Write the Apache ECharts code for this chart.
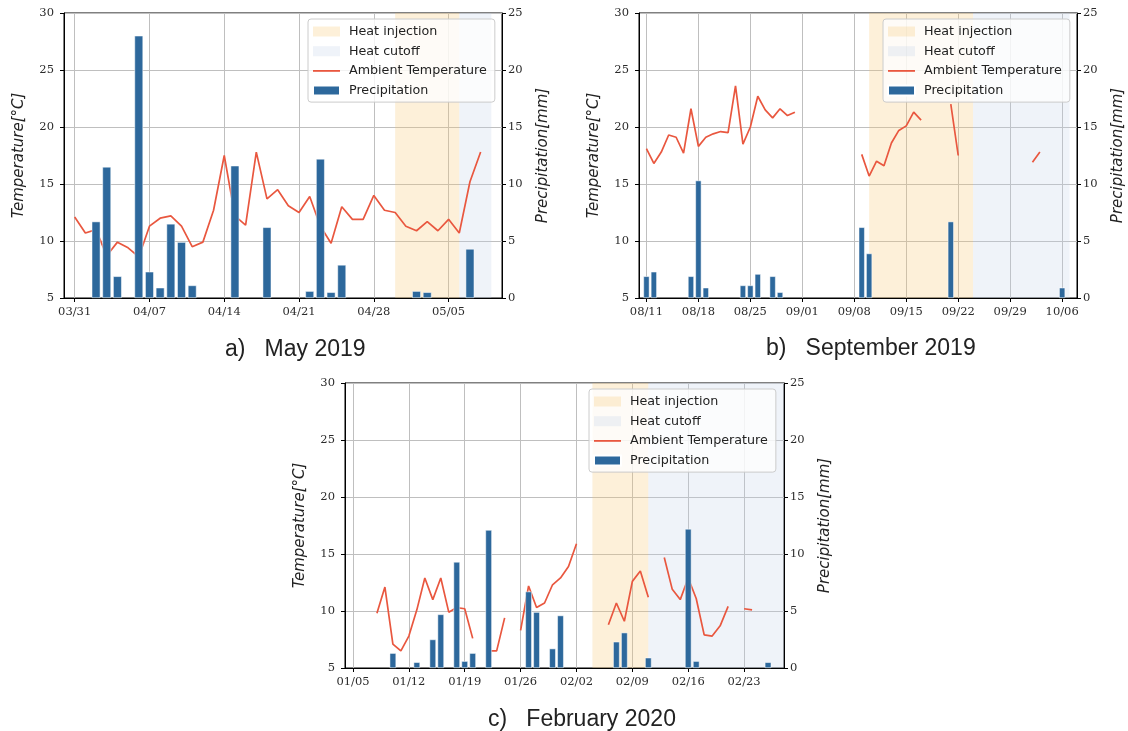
<!DOCTYPE html>
<html>
<head>
<meta charset="utf-8">
<script src="https://cdn.jsdelivr.net/npm/echarts/dist/echarts.min.js"></script>
<style>
	html, body { margin: 0; padding: 0; background: #fff; }
	#chart { width: 1128px; height: 731px; }
</style>
</head>
<body>
<div id="chart"></div>
<script>
	// MM/DD labels, one per day, starting at y-m-d
	function dayLabels(y, m, d, n) {
		let out = []
		for (let k = 0; k < n; k++) {
			let dt = new Date(y, m - 1, d + k)
			out.push(String(dt.getMonth() + 1).padStart(2, '0') + '/' + String(dt.getDate()).padStart(2, '0'))
		}
		return out
	}

	// ---- a) May 2019 ----
	const daysA = dayLabels(2019, 3, 30, 42)
	const ticksA = ['03/31', '04/07', '04/14', '04/21', '04/28', '05/05']
	const tempFromA = '03/31'
	const tempA = [12.1, 10.7, 11.0, 8.7, 9.9, 9.4, 8.6, 11.3, 12.0, 12.2,
		11.3, 9.5, 9.9, 12.7, 17.5, 12.2, 11.4, 17.8, 13.7, 14.5,
		13.1, 12.5, 13.9, 11.3, 9.8, 13.0, 11.9, 11.9, 14.0, 12.7,
		12.5, 11.3, 10.9, 11.7, 10.9, 11.9, 10.7, 15.2, 17.8]
	const rainDaysA = ['04/02', '04/03', '04/04', '04/06', '04/07', '04/08', '04/09', '04/10', '04/11',
		'04/15', '04/18', '04/22', '04/23', '04/24', '04/25', '05/02', '05/03', '05/07']
	const rainA = [6.7, 11.5, 1.9, 23.0, 2.3, 0.9, 6.5, 4.9, 1.1, 11.6, 6.2, 0.6, 12.2, 0.5, 2.9, 0.6, 0.5, 4.3]
	const heatOnA = ['04/30', '05/06']
	const heatOffA = ['05/06', '05/09']

	// ---- b) September 2019 ----
	const daysB = dayLabels(2019, 8, 10, 60)
	const ticksB = ['08/11', '08/18', '08/25', '09/01', '09/08', '09/15', '09/22', '09/29', '10/06']
	const tempFromB = '08/11'
	const tempB = [18.1, 16.8, 17.8, 19.3, 19.1, 17.7, 21.6, 18.3, 19.1, 19.4,
		19.6, 19.5, 23.6, 18.5, 20.0, 22.7, 21.5, 20.8, 21.6, 21.0,
		21.3, null, null, null, null, null, null, null, null, 17.6,
		15.7, 17.0, 16.6, 18.6, 19.7, 20.1, 21.3, 20.6, null, null,
		null, 22.0, 17.5, null, null, null, null, null, null, null,
		null, null, 16.9, 17.8]
	const rainDaysB = ['08/11', '08/12', '08/17', '08/18', '08/19', '08/24', '08/25', '08/26', '08/28',
		'08/29', '09/09', '09/10', '09/21', '10/06']
	const rainB = [1.9, 2.3, 1.9, 10.3, 0.9, 1.1, 1.1, 2.1, 1.9, 0.5, 6.2, 3.9, 6.7, 0.9]
	const heatOnB = ['09/10', '09/24']
	const heatOffB = ['09/24', '10/07']

	// ---- c) February 2020 ----
	const daysC = dayLabels(2020, 1, 4, 56)
	const ticksC = ['01/05', '01/12', '01/19', '01/26', '02/02', '02/09', '02/16', '02/23']
	const tempFromC = '01/08'
	const tempC = [9.8, 12.1, 7.1, 6.5, 7.8, 10.1, 12.9, 11.0, 12.9, 9.9,
		10.3, 10.2, 7.6, null, 6.5, 6.5, 9.4, null, 8.3, 12.2,
		10.3, 10.7, 12.3, 12.9, 13.9, 15.9, null, null, null, 8.8,
		10.7, 9.1, 12.6, 13.5, 11.2, null, 14.7, 11.9, 11.0, 12.9,
		11.1, 7.9, 7.8, 8.7, 10.4, null, 10.2, 10.1]
	const rainDaysC = ['01/10', '01/13', '01/15', '01/16', '01/18', '01/19', '01/20', '01/22', '01/27',
		'01/28', '01/30', '01/31', '02/07', '02/08', '02/11', '02/16', '02/17', '02/26']
	const rainC = [1.3, 0.5, 2.5, 4.7, 9.3, 0.6, 1.3, 12.1, 6.7, 4.9, 1.7, 4.6, 2.3, 3.1, 0.9, 12.2, 0.6, 0.5]
	const heatOnC = ['02/04', '02/11']
	const heatOffC = ['02/11', '02/28']

	const captions = ['a)   May 2019', 'b)   September 2019', 'c)   February 2020']

	const HEAT_ON = 'rgba(247,199,115,0.27)'
	const HEAT_OFF = 'rgba(191,207,231,0.25)'
	const LINE = '#e9573f'
	const BAR = '#2d689c'
	const GRID = '#bfbfbf'

	const panels = [
		{days: daysA, ticks: ticksA, tempFrom: tempFromA, temp: tempA, rainDays: rainDaysA, rain: rainA, on: heatOnA, off: heatOffA,
			left: 64, top: 13, width: 438, height: 285, legendLeft: 308, legendTop: 19},
		{days: daysB, ticks: ticksB, tempFrom: tempFromB, temp: tempB, rainDays: rainDaysB, rain: rainB, on: heatOnB, off: heatOffB,
			left: 639, top: 13, width: 438, height: 285, legendLeft: 883, legendTop: 19},
		{days: daysC, ticks: ticksC, tempFrom: tempFromC, temp: tempC, rainDays: rainDaysC, rain: rainC, on: heatOnC, off: heatOffC,
			left: 345, top: 383, width: 439, height: 285, legendLeft: 589, legendTop: 389}
	]

	const tickFont = {fontFamily: 'DejaVu Serif', fontSize: 11.5, color: '#2b2b2b'}
	const nameFont = {fontFamily: 'DejaVu Sans', fontStyle: 'italic', fontSize: 15, color: '#222'}

	let grid = [], xAxis = [], yAxis = [], series = [], legend = []

	panels.forEach((p, i) => {
		const isTick = (idx, val) => p.ticks.indexOf(val) >= 0

		// line values placed on the day axis
		let temp = p.days.map(() => null)
		let t0 = p.days.indexOf(p.tempFrom)
		p.temp.forEach((v, k) => { temp[t0 + k] = v })
		let rain = p.days.map(() => null)
		p.rainDays.forEach((d, k) => { rain[p.days.indexOf(d)] = p.rain[k] })

		grid.push({
			left: p.left, top: p.top, width: p.width, height: p.height,
			show: true, borderColor: '#000', borderWidth: 1, backgroundColor: 'transparent',
			outerBoundsMode: 'none'
		})
		xAxis.push({
			type: 'category', gridIndex: i, data: p.days, boundaryGap: false,
			axisLine: {show: true, lineStyle: {color: '#000', width: 1}},
			axisTick: {show: true, length: 4, interval: isTick, lineStyle: {color: '#000'}},
			axisLabel: Object.assign({interval: isTick, margin: 8}, tickFont),
			splitLine: {show: true, interval: isTick, lineStyle: {color: GRID, width: 1}}
		})
		yAxis.push({
			type: 'value', gridIndex: i, position: 'left', min: 5, max: 30, interval: 5,
			name: 'Temperature[°C]', nameLocation: 'middle', nameGap: 37, nameRotate: 90,
			nameMoveOverlap: false, nameTextStyle: nameFont,
			axisLine: {show: true, lineStyle: {color: '#000'}},
			axisTick: {show: true, length: 4, lineStyle: {color: '#000'}},
			axisLabel: Object.assign({margin: 10}, tickFont),
			splitLine: {show: true, lineStyle: {color: GRID, width: 1}}
		})
		yAxis.push({
			type: 'value', gridIndex: i, position: 'right', min: 0, max: 25, interval: 5,
			name: 'Precipitation[mm]', nameLocation: 'middle', nameGap: 34, nameRotate: 90,
			nameMoveOverlap: false, nameTextStyle: nameFont,
			axisLine: {show: true, lineStyle: {color: '#000'}},
			axisTick: {show: true, length: 4, lineStyle: {color: '#000'}},
			axisLabel: Object.assign({margin: 6}, tickFont),
			splitLine: {show: false}
		})

		series.push({
			name: 'Heat injection', type: 'line', xAxisIndex: i, yAxisIndex: 2 * i, data: [], z: 1, silent: true,
			itemStyle: {color: HEAT_ON},
			markArea: {silent: true, itemStyle: {color: HEAT_ON}, data: [[{xAxis: p.on[0]}, {xAxis: p.on[1]}]]}
		})
		series.push({
			name: 'Heat cutoff', type: 'line', xAxisIndex: i, yAxisIndex: 2 * i, data: [], z: 1, silent: true,
			itemStyle: {color: HEAT_OFF},
			markArea: {silent: true, itemStyle: {color: HEAT_OFF}, data: [[{xAxis: p.off[0]}, {xAxis: p.off[1]}]]}
		})
		series.push({
			name: 'Ambient Temperature', type: 'line', xAxisIndex: i, yAxisIndex: 2 * i, data: temp,
			symbol: 'none', showSymbol: false, connectNulls: false, z: 2,
			lineStyle: {color: LINE, width: 1.7}, itemStyle: {color: LINE}
		})
		series.push({
			name: 'Precipitation', type: 'bar', xAxisIndex: i, yAxisIndex: 2 * i + 1, data: rain,
			barWidth: '80%', z: 3,
			itemStyle: {color: BAR, borderColor: '#fff', borderWidth: 0.5}
		})

		legend.push({
			orient: 'vertical', left: p.legendLeft, top: p.legendTop,
			padding: [6, 8, 5, 4], itemGap: 6.7, itemWidth: 27, itemHeight: 10,
			backgroundColor: 'rgba(255,255,255,0.8)', borderColor: '#cccccc', borderWidth: 1, borderRadius: 3,
			textStyle: {fontFamily: 'DejaVu Sans', fontSize: 12.7, color: '#222', padding: [0, 0, 0, 4]},
			selectedMode: false,
			data: [
				{name: 'Heat injection', icon: 'rect', itemStyle: {color: HEAT_ON}},
				{name: 'Heat cutoff', icon: 'rect', itemStyle: {color: HEAT_OFF}},
				{name: 'Ambient Temperature', icon: 'path://M0,0H30V2H0Z', itemStyle: {color: LINE}},
				{name: 'Precipitation', icon: 'rect', itemStyle: {color: BAR}}
			]
		})
	})

	const captionPos = [[225, 338], [766, 337], [488, 708]]

	let myChart = echarts.init(document.getElementById('chart'))
	myChart.setOption({
		animation: false,
		grid: grid,
		xAxis: xAxis,
		yAxis: yAxis,
		legend: legend,
		series: series,
		graphic: captions.map((c, i) => ({
			type: 'text', left: captionPos[i][0], top: captionPos[i][1],
			style: {text: c, fontSize: 23, fontFamily: 'Liberation Sans', fill: '#222'}
		}))
	})
</script>
</body>
</html>
